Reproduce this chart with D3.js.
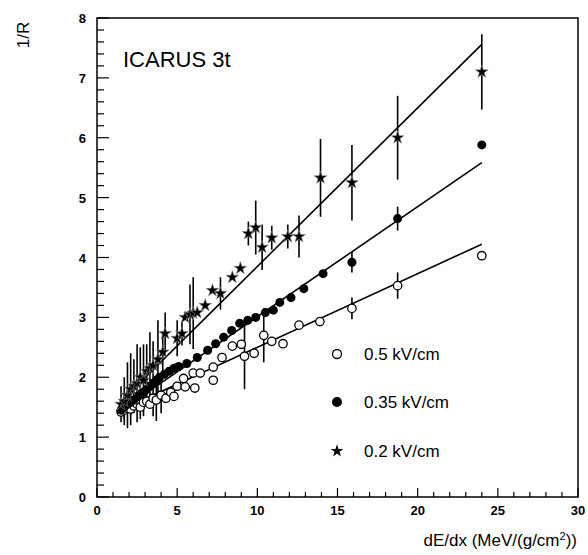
<!DOCTYPE html>
<html>
<head>
<meta charset="utf-8">
<script src="https://cdn.jsdelivr.net/npm/d3@7"></script>
<style>
  body { margin: 0; background: #fff; }
  svg text { font-family: "Liberation Sans", Arial, sans-serif; }
</style>
</head>
<body>
<div id="chart"></div>
<script>
// Series data: [dE/dx, 1/R, error]
const open05 = [
    [1.5, 1.42, 0], [1.7, 1.45, 0.15], [1.9, 1.48, 0], [2.1, 1.47, 0.1], [2.3, 1.52, 0],
    [2.5, 1.55, 0], [2.7, 1.5, 0.2], [2.9, 1.58, 0], [3.1, 1.6, 0], [3.3, 1.55, 0],
    [3.5, 1.65, 0.3], [3.7, 1.62, 0.35], [4.0, 1.7, 0.3], [4.3, 1.65, 0], [4.6, 1.75, 0],
    [4.8, 1.68, 0], [5.0, 1.85, 0], [5.4, 1.98, 0], [5.5, 1.84, 0], [6.0, 2.07, 0],
    [6.1, 1.82, 0], [6.44, 2.07, 0], [7.25, 2.17, 0], [7.25, 1.95, 0], [7.8, 2.33, 0],
    [8.44, 2.52, 0], [9.0, 2.55, 0], [9.2, 2.35, 0.55], [9.8, 2.4, 0], [10.4, 2.7, 0.45],
    [10.9, 2.6, 0], [11.6, 2.56, 0], [12.6, 2.87, 0], [13.9, 2.93, 0], [15.9, 3.15, 0.18],
    [18.75, 3.53, 0.22], [24.0, 4.03, 0]
];
const filled035 = [
    [1.5, 1.45, 0], [1.7, 1.5, 0], [1.9, 1.55, 0], [2.1, 1.58, 0], [2.3, 1.62, 0],
    [2.5, 1.68, 0], [2.7, 1.72, 0], [2.9, 1.75, 0], [3.1, 1.8, 0], [3.3, 1.85, 0],
    [3.5, 1.9, 0], [3.7, 1.95, 0], [3.9, 2.0, 0], [4.2, 2.05, 0], [4.5, 2.1, 0],
    [4.8, 2.15, 0], [5.1, 2.18, 0], [5.6, 2.23, 0], [6.25, 2.33, 0], [6.9, 2.45, 0],
    [7.4, 2.56, 0], [7.9, 2.67, 0], [8.4, 2.78, 0], [8.9, 2.9, 0], [9.4, 2.95, 0],
    [9.9, 3.0, 0], [10.5, 3.08, 0], [11.0, 3.12, 0], [11.4, 3.25, 0], [12.1, 3.33, 0],
    [12.9, 3.48, 0], [14.1, 3.73, 0], [15.9, 3.92, 0.17], [18.75, 4.65, 0.2], [24.0, 5.88, 0]
];
const star02 = [
    [1.5, 1.55, 0.3], [1.7, 1.6, 0.4], [1.9, 1.7, 0.55], [2.1, 1.8, 0.6], [2.3, 1.85, 0.45],
    [2.5, 1.9, 0.65], [2.7, 2.0, 0.5], [2.9, 1.95, 0.6], [3.1, 2.1, 0.45], [3.3, 2.15, 0.6],
    [3.5, 2.2, 0.4], [3.8, 2.3, 0.65], [4.1, 2.42, 0.35], [4.25, 2.73, 0.35], [5.0, 2.65, 0.3],
    [5.3, 2.73, 0.2], [5.5, 3.0, 0], [5.8, 3.05, 0.5], [6.0, 3.07, 0.6], [6.25, 3.08, 0],
    [6.75, 3.2, 0], [7.2, 3.45, 0], [7.7, 3.4, 0.27], [8.44, 3.67, 0], [8.94, 3.82, 0],
    [9.44, 4.4, 0.2], [9.9, 4.5, 0.45], [10.3, 4.17, 0.38], [10.9, 4.33, 0.2], [11.9, 4.35, 0.2],
    [12.6, 4.35, 0.35], [13.94, 5.33, 0.65], [15.9, 5.25, 0.63], [18.75, 6.0, 0.7], [24.0, 7.1, 0.63]
];

// Linear fits: [intercept, slope]
const fits = [[1.27, 0.123], [1.17, 0.184], [1.2, 0.265]];
const fitRange = [1.5, 24];

const legendLabels = ["0.5 kV/cm", "0.35 kV/cm", "0.2 kV/cm"];
const xTicks = [0, 5, 10, 15, 20, 25, 30];
const yTicks = [0, 1, 2, 3, 4, 5, 6, 7, 8];

const width = 588, height = 555;
const margin = { top: 18, right: 10, bottom: 58, left: 97 };
const w = width - margin.left - margin.right;
const h = height - margin.top - margin.bottom;

const svg = d3.select("#chart").append("svg")
    .attr("width", width)
    .attr("height", height);
const g = svg.append("g").attr("transform", `translate(${margin.left},${margin.top})`);

const x = d3.scaleLinear().domain([0, 30]).range([0, w]);
const y = d3.scaleLinear().domain([0, 8]).range([h, 0]);

// Frame
g.append("rect").attr("width", w).attr("height", h)
    .attr("fill", "none").attr("stroke", "#000").attr("stroke-width", 1.5);

// Ticks (inward)
g.append("g").selectAll("line")
    .data(d3.range(0, 30.01, 1))
    .enter().append("line")
    .attr("x1", d => x(d)).attr("x2", d => x(d))
    .attr("y1", h).attr("y2", d => h - (d % 5 === 0 ? 9 : 5))
    .attr("stroke", "#000").attr("stroke-width", 1.2);
g.append("g").selectAll("line")
    .data(d3.range(0, 40.01, 1).map(i => i / 5))
    .enter().append("line")
    .attr("y1", d => y(d)).attr("y2", d => y(d))
    .attr("x1", 0).attr("x2", (d, i) => (i % 5 === 0 ? 12 : 7))
    .attr("stroke", "#000").attr("stroke-width", 1.2);

// Tick labels
g.append("g").selectAll("text")
    .data(xTicks).enter().append("text")
    .attr("x", d => x(d)).attr("y", h + 18)
    .attr("text-anchor", "middle")
    .style("font-size", "13px").style("font-weight", "bold")
    .text(d => d);
g.append("g").selectAll("text")
    .data(yTicks).enter().append("text")
    .attr("x", -11).attr("y", d => y(d) + 5)
    .attr("text-anchor", "end")
    .style("font-size", "13px").style("font-weight", "bold")
    .text(d => d);

// Axis titles
svg.append("text")
    .attr("x", 577).attr("y", 546)
    .attr("text-anchor", "end")
    .style("font-size", "17px")
    .html('dE/dx (MeV/(g/cm<tspan dy="-6" font-size="11px">2</tspan><tspan dy="6">))</tspan>');
svg.append("text")
    .attr("transform", "translate(29,35) rotate(-90)")
    .attr("text-anchor", "middle")
    .style("font-size", "17px")
    .text("1/R");

g.append("text")
    .attr("x", 26).attr("y", 49)
    .style("font-size", "22px")
    .text("ICARUS 3t");

// Fit lines
fits.forEach(f => {
    g.append("line")
        .attr("x1", x(fitRange[0])).attr("y1", y(f[0] + f[1] * fitRange[0]))
        .attr("x2", x(fitRange[1])).attr("y2", y(f[0] + f[1] * fitRange[1]))
        .attr("stroke", "#000").attr("stroke-width", 1.6);
});

// Error bars
[open05, filled035, star02].forEach(series => {
    g.append("g").selectAll("line")
        .data(series.filter(d => d[2] > 0))
        .enter().append("line")
        .attr("x1", d => x(d[0])).attr("x2", d => x(d[0]))
        .attr("y1", d => y(d[1] - d[2])).attr("y2", d => y(d[1] + d[2]))
        .attr("stroke", "#000").attr("stroke-width", 1.6);
});

const star = d3.symbol().type(d3.symbolStar).size(50);

// Markers
g.append("g").selectAll("circle")
    .data(open05).enter().append("circle")
    .attr("cx", d => x(d[0])).attr("cy", d => y(d[1])).attr("r", 4.2)
    .attr("fill", "#fff").attr("stroke", "#000").attr("stroke-width", 1.3);
g.append("g").selectAll("circle")
    .data(filled035).enter().append("circle")
    .attr("cx", d => x(d[0])).attr("cy", d => y(d[1])).attr("r", 4.5)
    .attr("fill", "#000");
g.append("g").selectAll("path")
    .data(star02).enter().append("path")
    .attr("d", star)
    .attr("transform", d => `translate(${x(d[0])},${y(d[1])})`)
    .attr("fill", "#000").attr("stroke", "#888").attr("stroke-width", 0.6);

// Legend
const legend = svg.append("g");
const legendY = [354, 402, 451];
legendLabels.forEach((lab, i) => {
    const ly = legendY[i];
    if (i === 0) {
        legend.append("circle").attr("cx", 337).attr("cy", ly).attr("r", 4.5)
            .attr("fill", "#fff").attr("stroke", "#000").attr("stroke-width", 1.3);
    } else if (i === 1) {
        legend.append("circle").attr("cx", 337).attr("cy", ly).attr("r", 5).attr("fill", "#000");
    } else {
        legend.append("path").attr("d", star).attr("transform", `translate(337,${ly})`)
            .attr("fill", "#000");
    }
    legend.append("text")
        .attr("x", 364).attr("y", ly + 6)
        .style("font-size", "17px")
        .text(lab);
});
</script>
</body>
</html>
